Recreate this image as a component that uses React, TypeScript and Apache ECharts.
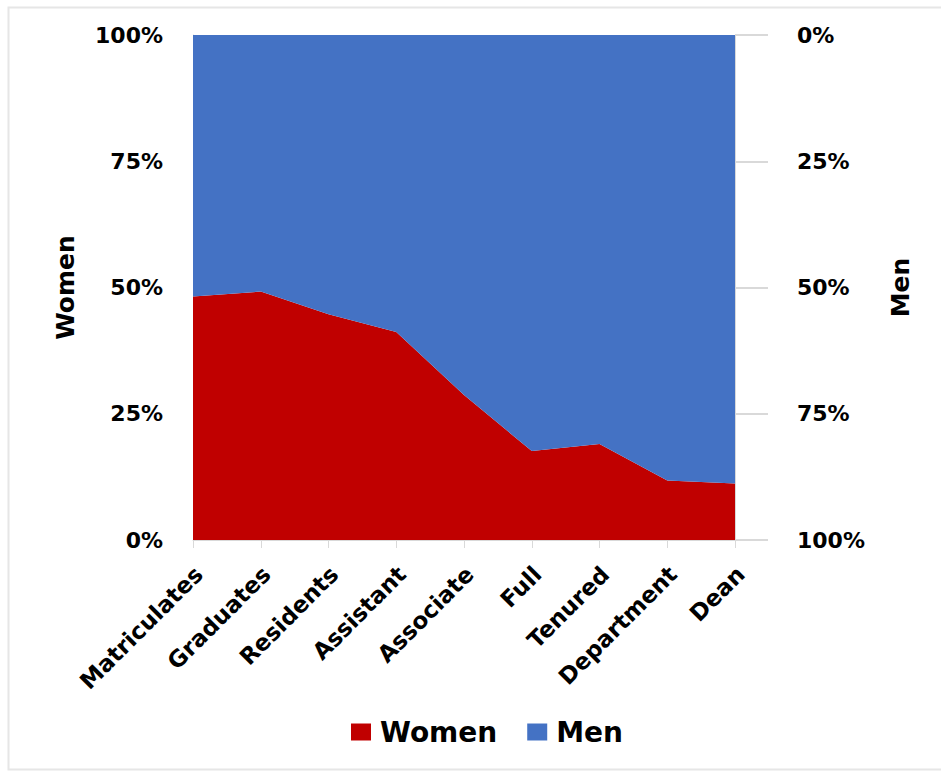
import React, { useEffect, useRef } from "react";
import * as echarts from "echarts";

const categories = [
  "Matriculates",
  "Graduates",
  "Residents",
  "Assistant",
  "Associate",
  "Full",
  "Tenured",
  "Department",
  "Dean",
];
const women = [48.2, 49.2, 44.7, 41.2, 28.7, 17.6, 19.0, 11.8, 11.2];
const men = [51.8, 50.8, 55.3, 58.8, 71.3, 82.4, 81.0, 88.2, 88.8];
const leftTicks = [0, 25, 50, 75, 100];

const FONT = "DejaVu Sans";

export default function App() {
  const ref = useRef<HTMLDivElement>(null);
  useEffect(() => {
    if (!ref.current) return;
    const chart = echarts.init(ref.current, undefined, { renderer: "svg" });
    const axisLabelStyle = {
      fontFamily: FONT,
      fontWeight: "bold" as const,
      fontSize: 22,
      color: "#000",
    };
    chart.setOption({
      animation: false,
      backgroundColor: "#fff",
      grid: { left: 193, right: 206, top: 35, bottom: 231 },
      legend: {
        data: [
          { name: "Women", icon: "rect" },
          { name: "Men", icon: "rect" },
        ],
        left: 346,
        top: 713,
        itemWidth: 20,
        itemHeight: 17,
        itemGap: 30,
        textStyle: {
          fontFamily: FONT,
          fontWeight: "bold",
          fontSize: 28,
          color: "#000",
          padding: [0, 0, 0, 4],
        },
      },
      xAxis: {
        type: "category",
        data: categories,
        boundaryGap: false,
        axisLine: { show: true, lineStyle: { color: "#d9d9d9", width: 1 } },
        axisTick: { show: true, length: 8, lineStyle: { color: "#d9d9d9" } },
        axisLabel: {
          ...axisLabelStyle,
          fontSize: 23,
          interval: 0,
          rotate: 45,
          margin: 36,
          padding: [0, -8, 0, 0],
        },
        splitLine: { show: false },
      },
      yAxis: [
        {
          type: "value",
          min: 0,
          max: 100,
          interval: 25,
          position: "left",
          name: "Women",
          nameLocation: "middle",
          nameRotate: 90,
          nameGap: 115,
          nameTextStyle: {
            fontFamily: FONT,
            fontWeight: "bold",
            fontSize: 25,
            color: "#000",
          },
          axisLine: { show: true, lineStyle: { color: "#d9d9d9" } },
          axisTick: { show: false },
          axisLabel: {
            ...axisLabelStyle,
            margin: 30,
            formatter: (v: number) => (leftTicks.includes(v) ? v + "%" : ""),
          },
          splitLine: { show: false },
        },
        {
          type: "value",
          min: 0,
          max: 100,
          interval: 25,
          inverse: true,
          position: "right",
          name: "Men",
          nameLocation: "middle",
          nameRotate: 90,
          nameGap: 153,
          nameTextStyle: {
            fontFamily: FONT,
            fontWeight: "bold",
            fontSize: 25,
            color: "#000",
          },
          axisLine: { show: true, lineStyle: { color: "#d9d9d9" } },
          axisTick: {
            show: true,
            inside: false,
            length: 33,
            lineStyle: { color: "#d9d9d9", width: 2 },
          },
          axisLabel: {
            ...axisLabelStyle,
            margin: 62,
            formatter: "{value}%",
          },
          splitLine: { show: false },
        },
      ],
      series: [
        {
          name: "Women",
          type: "line",
          stack: "total",
          data: women,
          symbol: "none",
          lineStyle: { width: 0 },
          itemStyle: { color: "#C00000" },
          areaStyle: { color: "#C00000", opacity: 1 },
        },
        {
          name: "Men",
          type: "line",
          stack: "total",
          data: men,
          symbol: "none",
          lineStyle: { width: 0 },
          itemStyle: { color: "#4472C4" },
          areaStyle: { color: "#4472C4", opacity: 1 },
        },
      ],
      graphic: [
        {
          type: "rect",
          shape: { x: 8.5, y: 7.5, width: 940, height: 762 },
          style: { fill: "none", stroke: "#e6e6e6", lineWidth: 2 },
          silent: true,
          z: -1,
        },
      ],
    });
    return () => chart.dispose();
  }, []);
  return (
    <div
      ref={ref}
      style={{ position: "absolute", left: 0, top: 0, width: 941, height: 771 }}
    />
  );
}
